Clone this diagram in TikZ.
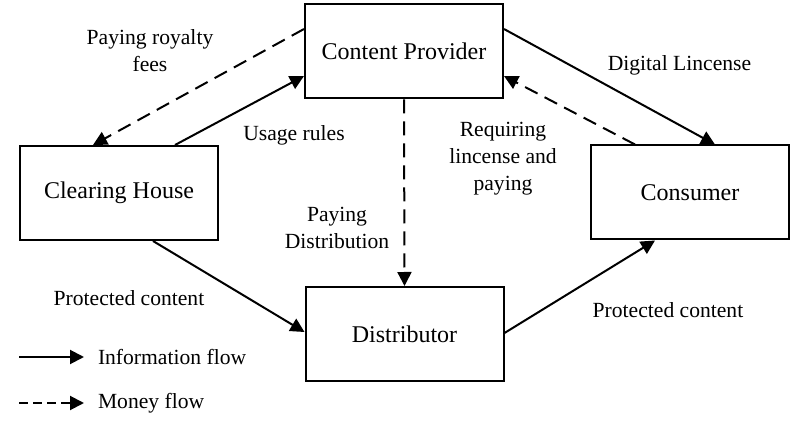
\documentclass[tikz,border=0pt]{standalone}
\usepackage{fontspec}
\setmainfont{Liberation Serif}
\usepackage{tikz}
\usetikzlibrary{arrows.meta}

\begin{document}
\begin{tikzpicture}[x=1pt, y=-1pt, line width=2pt,
    box/.style={draw, minimum width=198pt, minimum height=94pt, inner sep=0pt,
      font=\fontsize{24}{28}\selectfont},
    lbl/.style={align=center, inner sep=0pt, font=\fontsize{21.6}{27}\selectfont},
    info/.style={-{Triangle[length=14pt, width=14pt]}},
    money/.style={info, dash pattern=on 14pt off 8pt}]
    \useasboundingbox (0,0) rectangle (796,446);

    % the four parties
    \node[box] (cp)  at (404, 51.5) {Content Provider};
    \node[box] (ch)  at (119, 193)  {Clearing House};
    \node[box] (con) at (690, 192.5) {Consumer};
    \node[box] (dis) at (404.5, 334) {Distributor};

    % flows
    \draw[info]  ([xshift=56pt]ch.north) -- ([yshift=-24.5pt]cp.west);
    \draw[money] ([yshift=22.5pt]cp.west) -- ([xshift=-26pt]ch.north);
    \draw[info]  ([yshift=22.5pt]cp.east) -- ([xshift=25pt]con.north);
    \draw[money] ([xshift=-55pt]con.north) -- ([yshift=-24.5pt]cp.east);
    \draw[money] (cp.south) -- (dis.north);
    \draw[info]  ([xshift=34pt]ch.south) -- ([yshift=2pt]dis.west);
    \draw[info]  ([yshift=1pt]dis.east) -- ([xshift=-35pt]con.south);

    % labels
    \node[lbl] (fees)  at (150, 51)  {Paying royalty\\fees};
    \node[lbl] (rules) at (294, 135) {Usage rules};
    \node[lbl] (lic)   at (679.5, 65) {Digital Lincense};
    \node[lbl] (req)   at (503, 159) {Requiring\\lincense and\\paying};
    \node[lbl] (pdis)  at (337, 228) {Paying\\Distribution};
    \node[lbl] (pcl)   at (129, 298) {Protected content};
    \node[lbl] (pcr)   at (668, 310) {Protected content};

    % legend
    \coordinate (ia) at (19, 357);
    \coordinate (ib) at (84, 357);
    \coordinate (ma) at (19, 403);
    \coordinate (mb) at (84, 403);
    \draw[info]  (ia) -- (ib);
    \draw[money, dash pattern=on 9pt off 5pt] (ma) -- (mb);
    \node[lbl, anchor=west] (ilg) at (97, 357) {Information flow};
    \node[lbl, anchor=west] (mlg) at (97, 403) {Money flow};
\end{tikzpicture}
\end{document}
